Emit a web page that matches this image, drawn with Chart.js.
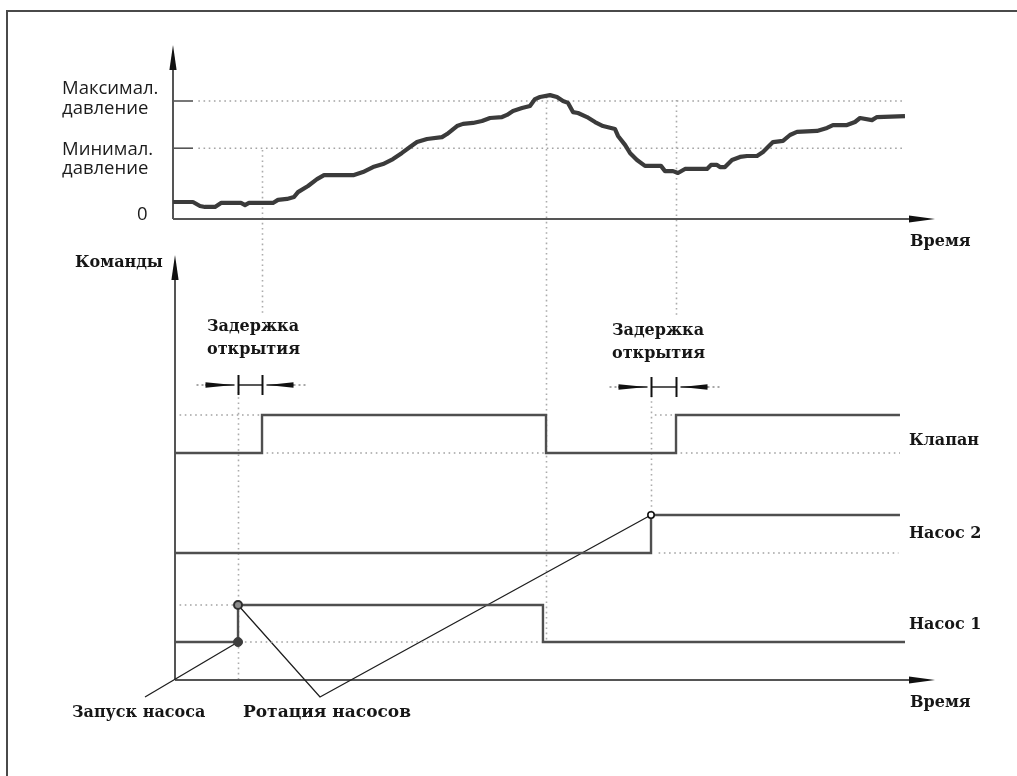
<!DOCTYPE html>
<html>
<head>
<meta charset="utf-8">
<script src="https://cdn.jsdelivr.net/npm/chart.js@4.4.0/dist/chart.umd.min.js"></script>
<style>
  html, body { margin: 0; padding: 0; background: #ffffff; }
  canvas { display: block; }
</style>
</head>
<body>
<canvas id="c" width="1017" height="776"></canvas>
<script>
// ---------------- DATA ----------------
// Pressure trace (time units, pressure units: 0 = zero, 3 = min, 5 = max)
const pressureTime = [0,2.62,3.54,4.20,5.51,6.30,8.92,9.45,9.97,13.12,13.78,14.96,15.88,16.40,17.72,18.90,19.82,23.75,24.93,26.25,27.56,28.87,30.05,31.10,32.02,33.33,35.30,35.96,37.27,38.06,39.37,40.55,41.60,43.18,43.83,44.62,45.80,46.85,47.51,48.16,49.48,50.39,51.18,51.84,52.49,53.15,54.33,55.38,56.43,58.01,58.40,59.32,59.97,60.89,61.94,64.04,64.57,65.62,66.27,67.19,70.08,70.60,71.39,71.78,72.44,73.36,74.41,75.33,76.64,77.43,78.08,78.74,80.05,80.97,81.89,84.51,85.83,86.61,88.45,89.50,90.16,91.73,92.39,96.06];
const pressureValue = [0.72,0.72,0.55,0.51,0.51,0.68,0.68,0.59,0.68,0.68,0.81,0.85,0.93,1.14,1.40,1.69,1.86,1.86,1.99,2.20,2.33,2.54,2.80,3.05,3.26,3.39,3.47,3.60,3.94,4.03,4.07,4.15,4.28,4.32,4.41,4.58,4.70,4.79,5.08,5.17,5.25,5.17,5.00,4.92,4.53,4.49,4.32,4.11,3.94,3.81,3.52,3.14,2.80,2.50,2.25,2.25,2.03,2.03,1.95,2.12,2.12,2.29,2.29,2.20,2.20,2.50,2.63,2.67,2.67,2.84,3.05,3.26,3.31,3.56,3.69,3.73,3.86,3.98,3.98,4.11,4.28,4.19,4.32,4.36];

// Pressure axis tick levels and labels
const pressureLevelValues = [5, 3, 0];
const pressureLevelLabels = [['Максимал.', 'давление'], ['Минимал.', 'давление'], ['0']];

// Command signals (0 = off, 1 = on)
const signalNames = ['Клапан', 'Насос 2', 'Насос 1'];
const valveTime  = [0, 11.42, 48.69, 65.75, 95.14];
const valveState = [0, 1, 0, 1, 1];
const pump2Time  = [0, 62.47, 95.14];
const pump2State = [0, 1, 1];
const pump1Time  = [0, 8.27, 48.29, 95.80];
const pump1State = [0, 1, 0, 0];

// Texts
const timeAxisLabel = 'Время';
const commandAxisLabel = 'Команды';
const delayLabel = ['Задержка', 'открытия'];
const pumpStartLabel = 'Запуск насоса';
const rotationLabel = 'Ротация насосов';

// ---------------- LAYOUT ----------------
const W = 1017, H = 776;
const PX_PER_T = 7.62;
const topOriginX = 173, botOriginX = 175;
function xRange(originPx) { return { min: -originPx / PX_PER_T, max: (W - originPx) / PX_PER_T }; }
function yRange(zeroPx, unitPx) { return { min: -(H - zeroPx) / unitPx, max: zeroPx / unitPx }; }

const LINE_GREY = '#4f4f4f';
const DOT_GREY = '#a3a3a3';
const SERIF_BOLD = 'bold 16px "DejaVu Serif"';
const SERIF_BOLD_L = 'bold 17px "DejaVu Serif"';
const SANS = '18.5px "Open Sans"';

function pts(ts, vs) { return ts.map((t, i) => ({ x: t, y: vs[i] })); }

function dotted(xID, yID, x0, x1, v) {
  return {
    data: [{ x: x0, y: v }, { x: x1, y: v }],
    xAxisID: xID, yAxisID: yID,
    borderColor: DOT_GREY, borderWidth: 1.6, borderDash: [1.6, 3.6],
    pointRadius: 0, fill: false, order: 10
  };
}
function solid(xID, yID, x0, x1, v, color, w) {
  return {
    data: [{ x: x0, y: v }, { x: x1, y: v }],
    xAxisID: xID, yAxisID: yID,
    borderColor: color, borderWidth: w, pointRadius: 0, fill: false, order: 9
  };
}

const tickLenT = 20 / PX_PER_T;
const lastT = pressureTime[pressureTime.length - 1];
const eps = 0.6;

const datasets = [];

// markers (on top)
datasets.push({
  data: [{ x: pump1Time[1], y: 0 }], xAxisID: 'xb', yAxisID: 'yN1', showLine: false,
  pointRadius: 4.5, pointBackgroundColor: '#3d3d3d', pointBorderColor: '#3d3d3d', order: -3
});
datasets.push({
  data: [{ x: pump1Time[1], y: 1 }], xAxisID: 'xb', yAxisID: 'yN1', showLine: false,
  pointRadius: 4, pointBackgroundColor: '#8c8c8c', pointBorderColor: '#2f2f2f', pointBorderWidth: 2, order: -3
});
datasets.push({
  data: [{ x: pump2Time[1], y: 1 }], xAxisID: 'xb', yAxisID: 'yN2', showLine: false,
  pointRadius: 3.2, pointBackgroundColor: '#ffffff', pointBorderColor: '#111111', pointBorderWidth: 1.6, order: -3
});

// pressure curve
datasets.push({
  data: pts(pressureTime, pressureValue), xAxisID: 'x', yAxisID: 'yP',
  borderColor: '#3b3b3b', borderWidth: 4.2, pointRadius: 0, tension: 0,
  borderJoinStyle: 'round', borderCapStyle: 'butt', fill: false, order: 0
});

// command signals
[[valveTime, valveState, 'yV'], [pump2Time, pump2State, 'yN2'], [pump1Time, pump1State, 'yN1']].forEach(([ts, vs, yid]) => {
  datasets.push({
    data: pts(ts, vs), xAxisID: 'xb', yAxisID: yid, stepped: 'before',
    borderColor: LINE_GREY, borderWidth: 2.4, pointRadius: 0, fill: false, order: 1
  });
});

// pressure level ticks & dotted references
pressureLevelValues.forEach(v => {
  if (v === 0) return;
  datasets.push(solid('x', 'yP', 0, tickLenT, v, '#555555', 1.6));
  datasets.push(dotted('x', 'yP', tickLenT + 0.7, lastT, v));
});

// command dotted references
datasets.push(dotted('xb', 'yV', 0.6, valveTime[1] - 0.3, 1));
datasets.push(dotted('xb', 'yV', valveTime[1] + eps, valveTime[2] - 0.2, 0));
datasets.push(dotted('xb', 'yV', pump2Time[1] + 0.5, valveTime[3] - 0.3, 1));
datasets.push(dotted('xb', 'yV', valveTime[3] + eps, valveTime[4], 0));
datasets.push(dotted('xb', 'yN2', pump2Time[1] + 1.0, pump2Time[2] - 0.2, 0));
datasets.push(dotted('xb', 'yN1', 0.6, pump1Time[1] - 0.3, 1));
datasets.push(dotted('xb', 'yN1', pump1Time[1] + 0.9, pump1Time[2] - 0.2, 0));

// vertical guide definitions (time from data, vertical extent in px)
const guides = [
  { t: valveTime[1], y0: 150, y1: 316 },
  { t: valveTime[2], y0: 97,  y1: 640 },
  { t: valveTime[3], y0: 100, y1: 318 },
  { t: pump1Time[1], y0: 392, y1: 680 },
  { t: pump2Time[1], y0: 396, y1: 511 }
];

function arrowHead(ctx, tipX, tipY, baseX, baseY, half) {
  const dx = tipX - baseX, dy = tipY - baseY, len = Math.hypot(dx, dy);
  const nx = -dy / len, ny = dx / len;
  ctx.beginPath();
  ctx.moveTo(tipX, tipY);
  ctx.lineTo(baseX + nx * half, baseY + ny * half);
  ctx.lineTo(baseX - nx * half, baseY - ny * half);
  ctx.closePath();
  ctx.fill();
}

const diagramPlugin = {
  id: 'diagram',
  beforeDatasetsDraw(chart) {
    const ctx = chart.ctx;
    const xs = chart.scales.xb, xt = chart.scales.x, yP = chart.scales.yP;
    ctx.save();
    // frame (top & left edges)
    ctx.strokeStyle = '#4a4a4a'; ctx.lineWidth = 2;
    ctx.beginPath(); ctx.moveTo(7, H); ctx.lineTo(7, 11); ctx.lineTo(W, 11); ctx.stroke();

    // vertical dotted guides
    ctx.strokeStyle = '#ababab'; ctx.lineWidth = 1.6; ctx.setLineDash([1.6, 3.6]);
    guides.forEach(g => {
      const x = Math.round(xs.getPixelForValue(g.t)) + 0.5;
      ctx.beginPath(); ctx.moveTo(x, g.y0); ctx.lineTo(x, g.y1); ctx.stroke();
    });
    ctx.setLineDash([]);

    // axes
    ctx.strokeStyle = '#555555'; ctx.fillStyle = '#111111'; ctx.lineWidth = 2;
    const ax = xt.getPixelForValue(0), ay = yP.getPixelForValue(0);
    ctx.beginPath(); ctx.moveTo(ax, ay); ctx.lineTo(ax, 62); ctx.stroke();
    arrowHead(ctx, ax, 45, ax, 70, 3.6);
    ctx.beginPath(); ctx.moveTo(ax, ay); ctx.lineTo(912, ay); ctx.stroke();
    arrowHead(ctx, 935, ay, 909, ay, 3.4);

    const bx = xs.getPixelForValue(0), by = 680;
    ctx.beginPath(); ctx.moveTo(bx, by); ctx.lineTo(bx, 272); ctx.stroke();
    arrowHead(ctx, bx, 255, bx, 280, 3.6);
    ctx.beginPath(); ctx.moveTo(bx, by); ctx.lineTo(912, by); ctx.stroke();
    arrowHead(ctx, 935, by, 909, by, 3.4);

    // leader lines
    const yN1 = chart.scales.yN1, yN2 = chart.scales.yN2;
    const p1x = xs.getPixelForValue(pump1Time[1]);
    const p1lo = yN1.getPixelForValue(0), p1hi = yN1.getPixelForValue(1);
    const p2x = xs.getPixelForValue(pump2Time[1]), p2hi = yN2.getPixelForValue(1);
    ctx.strokeStyle = '#1e1e1e'; ctx.lineWidth = 1.3;
    ctx.beginPath(); ctx.moveTo(145, 697); ctx.lineTo(p1x, p1lo); ctx.stroke();
    ctx.beginPath(); ctx.moveTo(p1x, p1hi); ctx.lineTo(320, 697); ctx.lineTo(p2x, p2hi); ctx.stroke();
    ctx.restore();
  },
  afterDatasetsDraw(chart) {
    const ctx = chart.ctx;
    const xs = chart.scales.xb, yP = chart.scales.yP;
    ctx.save();
    ctx.textBaseline = 'alphabetic'; ctx.textAlign = 'left';

    // pressure axis labels
    ctx.fillStyle = '#1c1c1c'; ctx.font = SANS;
    const lvlOffsets = [[-7, 13], [7, 26], [1]];
    pressureLevelValues.forEach((v, i) => {
      const py = yP.getPixelForValue(v);
      const lines = pressureLevelLabels[i];
      lines.forEach((s, j) => {
        const x = (v === 0) ? 137 : 62;
        ctx.fillText(s, x, py + lvlOffsets[i][j]);
      });
    });

    // serif labels
    ctx.fillStyle = '#161616'; ctx.font = SERIF_BOLD;
    ctx.fillText(timeAxisLabel, 910, 246);
    ctx.fillText(timeAxisLabel, 910, 707);
    ctx.fillText(commandAxisLabel, 75, 267);
    const sigPos = [[909, 445], [909, 538], [909, 629]];
    signalNames.forEach((s, i) => ctx.fillText(s, sigPos[i][0], sigPos[i][1]));
    ctx.fillText(pumpStartLabel, 72, 717);
    ctx.font = SERIF_BOLD_L;
    ctx.fillText(rotationLabel, 243, 717);

    // delay annotations
    const delays = [
      { t0: pump1Time[1], t1: valveTime[1], y: 385, tx: 207, ty: 331 },
      { t0: pump2Time[1], t1: valveTime[3], y: 387, tx: 612, ty: 335 }
    ];
    delays.forEach(d => {
      const xa = Math.round(xs.getPixelForValue(d.t0)) + 0.5;
      const xb = Math.round(xs.getPixelForValue(d.t1)) + 0.5;
      ctx.fillStyle = '#161616'; ctx.font = SERIF_BOLD;
      ctx.fillText(delayLabel[0], d.tx, d.ty);
      ctx.fillText(delayLabel[1], d.tx, d.ty + 23);
      // dotted extensions
      ctx.strokeStyle = '#8a8a8a'; ctx.lineWidth = 1.4; ctx.setLineDash([2, 3]);
      ctx.beginPath(); ctx.moveTo(xa - 42, d.y); ctx.lineTo(xa - 33, d.y); ctx.stroke();
      ctx.beginPath(); ctx.moveTo(xb + 31, d.y); ctx.lineTo(xb + 44, d.y); ctx.stroke();
      ctx.setLineDash([]);
      // arrows
      ctx.strokeStyle = '#111'; ctx.fillStyle = '#111'; ctx.lineWidth = 1.4;
      ctx.beginPath(); ctx.moveTo(xa - 33, d.y); ctx.lineTo(xa - 4, d.y); ctx.stroke();
      arrowHead(ctx, xa - 5, d.y, xa - 33, d.y, 2.8);
      ctx.beginPath(); ctx.moveTo(xb + 31, d.y); ctx.lineTo(xb + 4, d.y); ctx.stroke();
      arrowHead(ctx, xb + 5, d.y, xb + 31, d.y, 2.8);
      // ticks & middle
      ctx.lineWidth = 2;
      ctx.beginPath(); ctx.moveTo(xa, d.y - 10); ctx.lineTo(xa, d.y + 10); ctx.stroke();
      ctx.beginPath(); ctx.moveTo(xb, d.y - 10); ctx.lineTo(xb, d.y + 10); ctx.stroke();
      ctx.lineWidth = 1.4;
      ctx.beginPath(); ctx.moveTo(xa, d.y); ctx.lineTo(xb, d.y); ctx.stroke();
    });
    ctx.restore();
  }
};

new Chart(document.getElementById('c'), {
  type: 'line',
  data: { datasets },
  options: {
    responsive: false, animation: false, devicePixelRatio: 1, events: [],
    layout: { padding: 0, autoPadding: false },
    plugins: { legend: { display: false }, tooltip: { enabled: false }, title: { display: false } },
    scales: {
      x:   Object.assign({ type: 'linear', display: false }, xRange(topOriginX)),
      xb:  Object.assign({ type: 'linear', display: false }, xRange(botOriginX)),
      yP:  Object.assign({ type: 'linear', display: false, position: 'left' }, yRange(219, 23.6)),
      yV:  Object.assign({ type: 'linear', display: false, position: 'left' }, yRange(453, 38)),
      yN2: Object.assign({ type: 'linear', display: false, position: 'left' }, yRange(553, 38)),
      yN1: Object.assign({ type: 'linear', display: false, position: 'left' }, yRange(642, 37))
    }
  },
  plugins: [diagramPlugin]
});
</script>
</body>
</html>
